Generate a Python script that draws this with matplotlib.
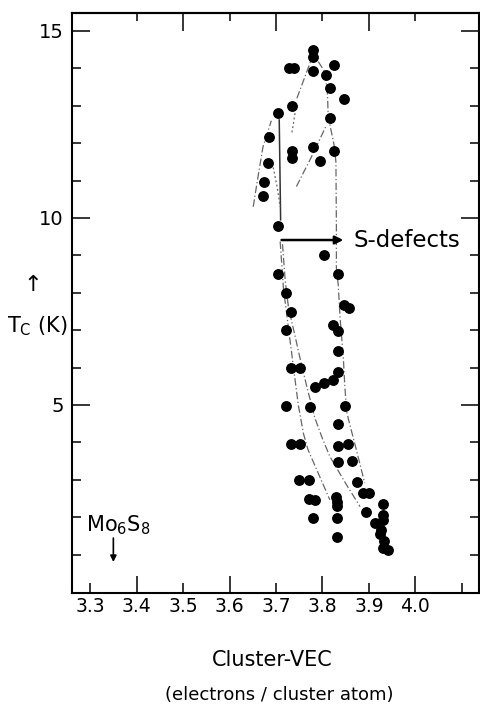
import matplotlib
matplotlib.use("Agg")
import matplotlib.pyplot as plt
from matplotlib.ticker import FixedLocator, FixedFormatter, NullFormatter

# ---- data ----
vec = [3.780, 3.780, 3.780, 3.729, 3.739, 3.825, 3.807, 3.816, 3.847, 3.735,
       3.705, 3.816, 3.685, 3.780, 3.735, 3.735, 3.825, 3.795, 3.683, 3.675,
       3.673, 3.705,
       3.803, 3.705, 3.833, 3.722, 3.733, 3.846, 3.857, 3.722, 3.823, 3.833,
       3.833, 3.732, 3.752, 3.834, 3.823, 3.804, 3.784, 3.721, 3.774, 3.849,
       3.833, 3.732, 3.752, 3.833, 3.856, 3.833, 3.863, 3.750, 3.772, 3.874,
       3.888, 3.901, 3.772, 3.784, 3.830, 3.832, 3.832, 3.931, 3.893, 3.931,
       3.931, 3.779, 3.913, 3.832, 3.832, 3.927, 3.924, 3.932, 3.931, 3.942]
tc = [14.49, 14.30, 13.94, 14.00, 14.00, 14.09, 13.82, 13.47, 13.17, 12.99,
      12.80, 12.68, 12.17, 11.89, 11.80, 11.60, 11.79, 11.52, 11.48, 10.97,
      10.59, 9.79,
      9.01, 8.50, 8.49, 8.00, 7.48, 7.67, 7.58, 7.01, 7.15, 6.98,
      6.43, 5.99, 5.99, 5.87, 5.67, 5.58, 5.47, 4.98, 4.95, 4.97,
      4.49, 3.96, 3.96, 3.90, 3.96, 3.47, 3.50, 2.98, 2.98, 2.95,
      2.64, 2.64, 2.48, 2.46, 2.53, 2.41, 2.30, 2.35, 2.15, 2.06,
      1.93, 1.97, 1.85, 1.97, 1.46, 1.66, 1.54, 1.35, 1.17, 1.12]

# guide curves drawn in the original figure
outer_left_x = [3.651, 3.660, 3.672, 3.690]
outer_left_y = [10.30, 11.00, 11.90, 12.60]
solid_x = [3.707, 3.710]
solid_y = [12.62, 9.95]
dotted_left_x = [3.694, 3.703, 3.709]
dotted_left_y = [11.35, 10.80, 10.30]
to_top_x = [3.745, 3.760, 3.775]
to_top_y = [13.20, 13.70, 14.20]
dotted_mid_x = [3.741, 3.734]
dotted_mid_y = [12.80, 12.26]
rising_x = [3.744, 3.775, 3.809]
rising_y = [10.84, 11.60, 12.49]
right_x = [3.791, 3.805, 3.811, 3.812, 3.816, 3.825, 3.829, 3.830, 3.830, 3.834,
           3.838, 3.845, 3.848, 3.852, 3.859, 3.875, 3.891]
right_y = [14.18, 13.91, 13.29, 12.84, 12.50, 11.95, 11.50, 9.80, 8.66, 8.21,
           7.32, 6.25, 5.53, 4.82, 4.47, 3.70, 2.91]
left1_x = [3.709, 3.716, 3.726, 3.737, 3.748, 3.759, 3.769, 3.816]
left1_y = [9.37, 8.12, 7.14, 6.07, 5.00, 4.24, 3.80, 2.46]
left2_x = [3.714, 3.720, 3.727, 3.740, 3.755, 3.769, 3.784, 3.800, 3.816, 3.850, 3.881]
left2_y = [9.30, 8.30, 7.60, 6.90, 6.07, 5.36, 4.64, 4.10, 3.62, 2.90, 2.28]

xtick_major = [3.4, 3.6, 3.8, 4.0]
xtick_minor = [3.3, 3.5, 3.7, 3.9, 4.1]
xlabels_major = ["3.4", "3.6", "3.8", "4.0"]
xlabels_minor = ["3.3", "3.5", "3.7", "3.9", ""]
top_major = [3.5, 3.7, 3.9]
top_minor = [3.4, 3.6, 3.8, 4.0]
ytick_major = [5, 10, 15]
ytick_minor = [1, 2, 3, 4, 6, 7, 8, 9, 11, 12, 13, 14]
ylabels_major = ["5", "10", "15"]

defect_arrow_x = [3.712, 3.845]
defect_arrow_y = 9.41
mo6s8_x = 3.35

plt.rcParams['font.family'] = ['DejaVu Sans']
fig = plt.figure(figsize=(4.81, 7.12), dpi=100)
ax = fig.add_axes([0.1497, 0.1671, 0.8462, 0.8146])
ax.set_xlim(3.261, 4.137)
ax.set_ylim(-0.03, 15.48)

lc = '#666666'
dd = (0, (6, 2, 1, 2))
ax.plot(outer_left_x, outer_left_y, color=lc, lw=0.9, ls=dd)
ax.plot(solid_x, solid_y, color='#333333', lw=1.1, ls='-')
ax.plot(dotted_left_x, dotted_left_y, color=lc, lw=0.9, ls=(0, (1.5, 2)))
ax.plot(to_top_x, to_top_y, color=lc, lw=0.9, ls=dd)
ax.plot(dotted_mid_x, dotted_mid_y, color=lc, lw=0.9, ls=(0, (1.5, 2)))
ax.plot(rising_x, rising_y, color=lc, lw=0.9, ls=dd)
ax.plot(right_x, right_y, color=lc, lw=0.9, ls=dd)
ax.plot(left1_x, left1_y, color=lc, lw=0.9, ls=dd)
ax.plot(left2_x, left2_y, color=lc, lw=0.9, ls=dd)

ax.plot(vec, tc, 'o', color='black', ms=6.8, mec='black', zorder=5)

# S-defects arrow
ax.annotate("", xy=(defect_arrow_x[1], defect_arrow_y), xytext=(defect_arrow_x[0], defect_arrow_y),
            arrowprops=dict(arrowstyle='-|>', color='black', lw=1.8, mutation_scale=12,
                            shrinkA=0, shrinkB=0))
ax.text(3.866, defect_arrow_y, "S-defects", fontsize=16.5, va='center', ha='left')

# Mo6S8 marker
ax.text(3.36, 1.79, r"Mo$_6$S$_8$", fontsize=15, ha='center', va='center')
ax.annotate("", xy=(mo6s8_x, 0.80), xytext=(mo6s8_x, 1.44),
            arrowprops=dict(arrowstyle='-|>', color='black', lw=1.2, mutation_scale=9,
                            shrinkA=0, shrinkB=0))

# spines / ticks
for s in ax.spines.values():
    s.set_linewidth(1.5)
ax.xaxis.set_major_locator(FixedLocator(xtick_major))
ax.xaxis.set_minor_locator(FixedLocator(xtick_minor))
ax.xaxis.set_major_formatter(FixedFormatter(xlabels_major))
ax.xaxis.set_minor_formatter(FixedFormatter(xlabels_minor))
ax.yaxis.set_major_locator(FixedLocator(ytick_major))
ax.yaxis.set_minor_locator(FixedLocator(ytick_minor))
ax.yaxis.set_major_formatter(FixedFormatter(ylabels_major))
ax.yaxis.set_minor_formatter(NullFormatter())
ax.tick_params(axis='x', which='major', direction='in', length=12, width=1.1,
               labelsize=13.5, pad=3, top=False, bottom=True)
ax.tick_params(axis='x', which='minor', direction='in', length=7, width=1.1,
               labelsize=13.5, pad=3, top=False, bottom=True)
ax.tick_params(axis='y', which='major', direction='in', length=13, width=1.1,
               labelsize=14, pad=6, left=True, right=True)
ax.tick_params(axis='y', which='minor', direction='in', length=6.5, width=1.1,
               left=True, right=True)

sec = ax.secondary_xaxis('top')
sec.xaxis.set_major_locator(FixedLocator(top_major))
sec.xaxis.set_minor_locator(FixedLocator(top_minor))
sec.xaxis.set_major_formatter(NullFormatter())
sec.xaxis.set_minor_formatter(NullFormatter())
sec.tick_params(which='major', direction='in', length=13, width=1.1)
sec.tick_params(which='minor', direction='in', length=6, width=1.1)
sec.spines['top'].set_linewidth(1.5)

# axis labels
fig.text(0.0686, 0.600, "\u2191", fontsize=16, ha='center', va='center')
fig.text(0.077, 0.542, r"T$_\mathrm{C}$ (K)", fontsize=15, ha='center', va='center')
fig.text(0.566, 0.073, "Cluster-VEC", fontsize=15, ha='center', va='center')
fig.text(0.580, 0.024, "(electrons / cluster atom)", fontsize=13, ha='center', va='center')

fig.savefig("out.png", dpi=100)
